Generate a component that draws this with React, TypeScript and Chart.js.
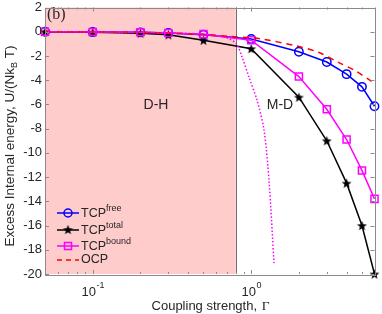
import React, { useEffect, useRef } from 'react';
import { Chart, registerables } from 'chart.js';
Chart.register(...registerables);

const gammaValues = [0.05, 0.1, 0.2, 0.3, 0.5, 1, 2, 3, 4, 5, 6];
const tcpFree = [0, -0.02, -0.05, -0.1, -0.25, -0.6, -1.65, -2.5, -3.5, -4.55, -6.15];
const tcpTotal = [0, -0.05, -0.12, -0.25, -0.7, -1.4, -5.4, -9.0, -12.5, -16.0, -20.0];
const tcpBound = [0, -0.02, -0.05, -0.1, -0.2, -0.7, -3.7, -6.4, -8.9, -11.45, -13.8];
const ocpGamma = [0.05, 0.1, 0.2, 0.3, 0.5, 0.73, 1, 1.17, 1.9, 2.66, 3.55, 4.51, 5.6, 6];
const ocpValues = [0, -0.02, -0.06, -0.12, -0.22, -0.39, -0.5, -0.6, -1.15, -1.7, -2.53, -3.2, -4.0, -4.3];
const dottedGamma = [0.05, 0.1, 0.2, 0.3, 0.5, 0.7, 0.806, 0.879, 0.971, 1.09, 1.206, 1.296, 1.393];
const dottedValues = [0, -0.02, -0.05, -0.1, -0.2, -0.5, -1.0, -2.14, -3.79, -5.68, -8.15, -12.3, -19.1];
const yTickValues = [2, 0, -2, -4, -6, -8, -10, -12, -14, -16, -18, -20];
const xMajorTicks = [0.1, 1];
const xMajorLabels = ['-1', '0'];
const xMinorTicks = [0.06, 0.07, 0.08, 0.09, 0.2, 0.3, 0.4, 0.5, 0.6, 0.7, 0.8, 0.9, 2, 3, 4, 5, 6];
const dhBoundary = 0.8;
const legendNames = ['free', 'total', 'bound'];

const TXT = '#262626';
const SANS = '"Liberation Sans", Arial, sans-serif';
const SERIF = '"Liberation Serif", "Times New Roman", serif';

function makeStar(size: number, color: string) {
  const c = document.createElement('canvas');
  c.width = size; c.height = size;
  const g = c.getContext('2d')!;
  const cx = size / 2, cy = size / 2 + 0.5, R = size / 2 - 0.3, r = R * 0.42;
  g.beginPath();
  for (let i = 0; i < 10; i++) {
    const a = -Math.PI / 2 + (i * Math.PI) / 5;
    const rr = i % 2 === 0 ? R : r;
    const px = cx + rr * Math.cos(a), py = cy + rr * Math.sin(a);
    if (i === 0) g.moveTo(px, py); else g.lineTo(px, py);
  }
  g.closePath();
  g.fillStyle = color;
  g.fill();
  return c;
}

export default function App() {
  const ref = useRef<HTMLCanvasElement>(null);
  useEffect(() => {
    document.body.style.margin = '0';
    const star = makeStar(11, '#000');
    const pts = (xs: number[], ys: number[]) => xs.map((x, i) => ({ x, y: ys[i] }));

    const overlay = {
      id: 'overlay',
      beforeDatasetsDraw(chart: any) {
        const { ctx, chartArea: a, scales } = chart;
        const xb = scales.x.getPixelForValue(dhBoundary);
        ctx.save();
        ctx.fillStyle = '#ffcccc';
        ctx.fillRect(a.left, a.top, xb - a.left, a.bottom - a.top);
        ctx.strokeStyle = '#6e6e6e';
        ctx.lineWidth = 1;
        ctx.beginPath();
        ctx.moveTo(Math.round(xb) + 0.5, a.top);
        ctx.lineTo(Math.round(xb) + 0.5, a.bottom);
        ctx.stroke();
        ctx.fillStyle = TXT;
        ctx.font = `14px ${SANS}`;
        ctx.textAlign = 'center';
        ctx.textBaseline = 'middle';
        ctx.fillText('D-H', 156, 105);
        ctx.fillText('M-D', 280, 105);
        ctx.font = `16px ${SERIF}`;
        ctx.textAlign = 'left';
        ctx.fillText('(b)', 47, 15);
        ctx.restore();
      },
      afterDraw(chart: any) {
        const { ctx, chartArea: a, scales } = chart;
        const xs = scales.x, ys = scales.y;
        ctx.save();
        ctx.strokeStyle = '#8a8a8a';
        ctx.lineWidth = 1;
        ctx.strokeRect(Math.round(a.left) + 0.5, Math.round(a.top) + 0.5, Math.round(a.right - a.left), Math.round(a.bottom - a.top));
        ctx.beginPath();
        yTickValues.forEach((v) => {
          const py = Math.round(ys.getPixelForValue(v)) + 0.5;
          ctx.moveTo(a.left, py); ctx.lineTo(a.left + 4, py);
          ctx.moveTo(a.right, py); ctx.lineTo(a.right - 4, py);
        });
        xMajorTicks.forEach((v) => {
          const px = Math.round(xs.getPixelForValue(v)) + 0.5;
          ctx.moveTo(px, a.bottom); ctx.lineTo(px, a.bottom - 4);
          ctx.moveTo(px, a.top); ctx.lineTo(px, a.top + 4);
        });
        xMinorTicks.forEach((v) => {
          const px = Math.round(xs.getPixelForValue(v)) + 0.5;
          ctx.moveTo(px, a.bottom); ctx.lineTo(px, a.bottom - 2);
          ctx.moveTo(px, a.top); ctx.lineTo(px, a.top + 2);
        });
        ctx.stroke();
        ctx.fillStyle = TXT;
        ctx.font = `13px ${SANS}`;
        ctx.textAlign = 'right';
        ctx.textBaseline = 'middle';
        yTickValues.forEach((v) => {
          ctx.fillText(String(v), a.left - 3, ys.getPixelForValue(v));
        });
        xMajorTicks.forEach((v, i) => {
          const px = xs.getPixelForValue(v);
          ctx.font = `13px ${SANS}`;
          const w1 = ctx.measureText('10').width;
          ctx.font = `9px ${SANS}`;
          const w2 = ctx.measureText(xMajorLabels[i]).width;
          const x0 = px - (w1 + w2) / 2;
          ctx.textAlign = 'left';
          ctx.textBaseline = 'alphabetic';
          ctx.font = `13px ${SANS}`;
          ctx.fillText('10', x0, 296);
          ctx.font = `9px ${SANS}`;
          ctx.fillText(xMajorLabels[i], x0 + w1 + 0.5, 288);
        });
        ctx.font = `13px ${SANS}`;
        const t1 = 'Coupling strength, ';
        const tw1 = ctx.measureText(t1).width;
        ctx.font = `13.5px ${SERIF}`;
        const tw2 = ctx.measureText('Γ').width;
        const tx = 210 - (tw1 + tw2) / 2;
        ctx.textAlign = 'left';
        ctx.textBaseline = 'middle';
        ctx.font = `13px ${SANS}`;
        ctx.fillText(t1, tx, 306);
        ctx.font = `13.5px ${SERIF}`;
        ctx.fillText('Γ', tx + tw1 + 1, 306);
        ctx.save();
        ctx.translate(10, 146);
        ctx.rotate(-Math.PI / 2);
        ctx.font = `13.5px ${SANS}`;
        const s1 = 'Excess Internal energy, U/(Nk';
        const s3 = ' T)';
        const w1 = ctx.measureText(s1).width;
        const w3 = ctx.measureText(s3).width;
        ctx.font = `9px ${SANS}`;
        const w2 = ctx.measureText('B').width;
        const sx = -(w1 + w2 + w3) / 2;
        ctx.textBaseline = 'middle';
        ctx.font = `13.5px ${SANS}`;
        ctx.fillText(s1, sx, 0);
        ctx.font = `9px ${SANS}`;
        ctx.fillText('B', sx + w1, 4.5);
        ctx.font = `13.5px ${SANS}`;
        ctx.fillText(s3, sx + w1 + w2, 0);
        ctx.restore();
        const rows = [213, 230, 246, 260];
        const colors = ['#0000ff', '#000000', '#ff00ff'];
        ctx.lineWidth = 1.5;
        for (let i = 0; i < 3; i++) {
          const y = rows[i];
          ctx.strokeStyle = colors[i];
          ctx.setLineDash([]);
          ctx.beginPath(); ctx.moveTo(57, y); ctx.lineTo(79, y); ctx.stroke();
          if (i === 0) {
            ctx.beginPath(); ctx.arc(68, y, 4, 0, Math.PI * 2); ctx.stroke();
          } else if (i === 1) {
            ctx.drawImage(star, 68 - 5.5, y - 6);
          } else {
            ctx.strokeRect(64.5, y - 3.5, 7, 7);
          }
          ctx.fillStyle = TXT;
          ctx.font = `12.5px ${SANS}`;
          ctx.textAlign = 'left';
          ctx.textBaseline = 'middle';
          ctx.fillText('TCP', 81, y + 1);
          const tw = ctx.measureText('TCP').width;
          ctx.font = `9px ${SANS}`;
          ctx.fillText(legendNames[i], 81 + tw, y - 4);
        }
        ctx.strokeStyle = '#ff0000';
        ctx.setLineDash([5, 4]);
        ctx.beginPath(); ctx.moveTo(57, rows[3]); ctx.lineTo(79, rows[3]); ctx.stroke();
        ctx.setLineDash([]);
        ctx.fillStyle = TXT;
        ctx.font = `12.5px ${SANS}`;
        ctx.fillText('OCP', 81, rows[3]);
        ctx.restore();
      },
    };

    const chart = new Chart(ref.current!, {
      type: 'line',
      data: {
        datasets: [
          { data: pts(dottedGamma, dottedValues), borderColor: '#ff00ff', borderWidth: 1.5, borderDash: [1.5, 2], pointRadius: 0, tension: 0.3, clip: false },
          { data: pts(ocpGamma, ocpValues), borderColor: '#ff0000', borderWidth: 1.5, borderDash: [6, 5], pointRadius: 0, tension: 0.3, clip: false },
          { data: pts(gammaValues, tcpBound), borderColor: '#ff00ff', borderWidth: 1.5, pointStyle: 'rect', pointRadius: 5, pointBorderColor: '#ff00ff', pointBackgroundColor: 'rgba(0,0,0,0)', pointBorderWidth: 1.5, clip: false },
          { data: pts(gammaValues, tcpTotal), borderColor: '#000000', borderWidth: 1.5, pointStyle: star as any, pointRadius: 6, clip: false },
          { data: pts(gammaValues, tcpFree), borderColor: '#0000ff', borderWidth: 1.5, pointStyle: 'circle', pointRadius: 4.2, pointBorderColor: '#0000ff', pointBackgroundColor: 'rgba(0,0,0,0)', pointBorderWidth: 1.5, clip: false },
        ],
      },
      options: {
        animation: false,
        responsive: false,
        maintainAspectRatio: false,
        layout: { padding: { left: 45, right: 6, top: 7, bottom: 40 } },
        plugins: { legend: { display: false }, tooltip: { enabled: false } },
        scales: {
          x: {
            type: 'logarithmic', min: 0.05, max: 6,
            ticks: { display: false }, grid: { display: false, drawTicks: false }, border: { display: false },
            afterFit: (s: any) => { s.height = 0; },
          },
          y: {
            type: 'linear', min: -20, max: 2,
            ticks: { display: false }, grid: { display: false, drawTicks: false }, border: { display: false },
            afterFit: (s: any) => { s.width = 0; },
          },
        },
      },
      plugins: [overlay],
    });
    return () => chart.destroy();
  }, []);
  return <canvas ref={ref} width={382} height={314} style={{ display: 'block', width: 382, height: 314 }} />;
}
